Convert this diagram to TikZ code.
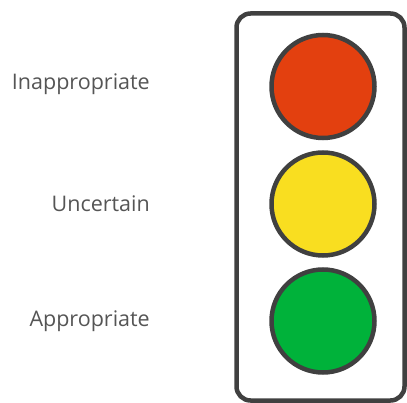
\documentclass[tikz,border=0pt]{standalone}
\usepackage{fontspec}
\setmainfont{Open Sans}
\definecolor{frame}{HTML}{404040}
\definecolor{lred}{HTML}{E3400F}
\definecolor{lyellow}{HTML}{F9DE20}
\definecolor{lgreen}{HTML}{00B23A}
\definecolor{txt}{HTML}{555555}
\begin{document}
\begin{tikzpicture}[x=1pt,y=-1pt,
  lamp/.style={circle,draw=frame,line width=4.5pt,minimum size=103pt,inner sep=0pt},
  lbl/.style={anchor=east,text=txt,font=\fontsize{21.5}{24}\selectfont,inner sep=0pt}]
\useasboundingbox (0,0) rectangle (407,403);
\draw[frame,line width=4.5pt,rounded corners=14pt] (236.5,13.5) rectangle (404.5,400.5);
\node[lamp,fill=lred] (red) at (323,86.5) {};
\node[lamp,fill=lyellow] (yellow) at (323,204) {};
\node[lamp,fill=lgreen] (green) at (323,321) {};
\node[lbl] (t1) at (150,84) {Inappropriate};
\node[lbl] (t2) at (150,204) {Uncertain};
\node[lbl] (t3) at (150,321) {Appropriate};
\end{tikzpicture}
\end{document}
